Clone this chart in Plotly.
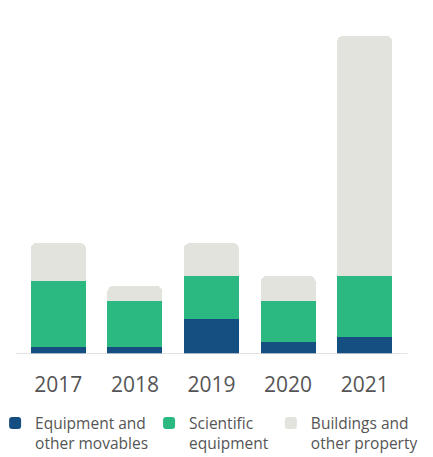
import plotly.graph_objects as go

years = ["2017", "2018", "2019", "2020", "2021"]
equipment_movables = [7, 7, 35, 12, 17]
scientific_equipment = [66, 46, 43, 41, 61]
buildings_property = [38, 15, 33, 25, 240]

series_names = ["Equipment and<br>other movables", "Scientific<br>equipment", "Buildings and<br>other property"]
colors = ["#154F81", "#2BB981", "#E3E3DE"]
legend_ids = ["legend", "legend2", "legend3"]
legend_x = [-0.065, 0.337, 0.655]

fig = go.Figure()
for name, vals, col, lid in zip(series_names, [equipment_movables, scientific_equipment, buildings_property], colors, legend_ids):
    fig.add_trace(go.Bar(x=years, y=vals, name=name, legend=lid,
                         marker=dict(color=col, line=dict(width=0))))

legend_style = dict(orientation="h", xanchor="left", y=-0.162, yanchor="top",
                    font=dict(size=15.5, color="#555555", family="Open Sans"),
                    itemwidth=30, valign="top", bgcolor="rgba(0,0,0,0)")

fig.update_layout(
    width=433, height=457,
    barmode="stack", bargap=0.28, barcornerradius=6,
    plot_bgcolor="white", paper_bgcolor="white",
    margin=dict(l=12, r=38, t=22, b=111, autoexpand=False),
    font=dict(family="Open Sans", color="#555555"),
    xaxis=dict(showgrid=False, showline=False, zeroline=False, ticks="",
               tickfont=dict(size=21, color="#555555"), ticklabelstandoff=16),
    yaxis=dict(visible=False, range=[0, 324]),
    showlegend=True,
    legend=dict(x=legend_x[0], **legend_style),
    legend2=dict(x=legend_x[1], **legend_style),
    legend3=dict(x=legend_x[2], **legend_style),
)
fig.add_shape(type="line", xref="paper", yref="y", x0=-0.01, x1=1.012, y0=0, y1=0,
              line=dict(color="#D9D9D9", width=1.5), layer="above")

fig.write_html("out.html")
